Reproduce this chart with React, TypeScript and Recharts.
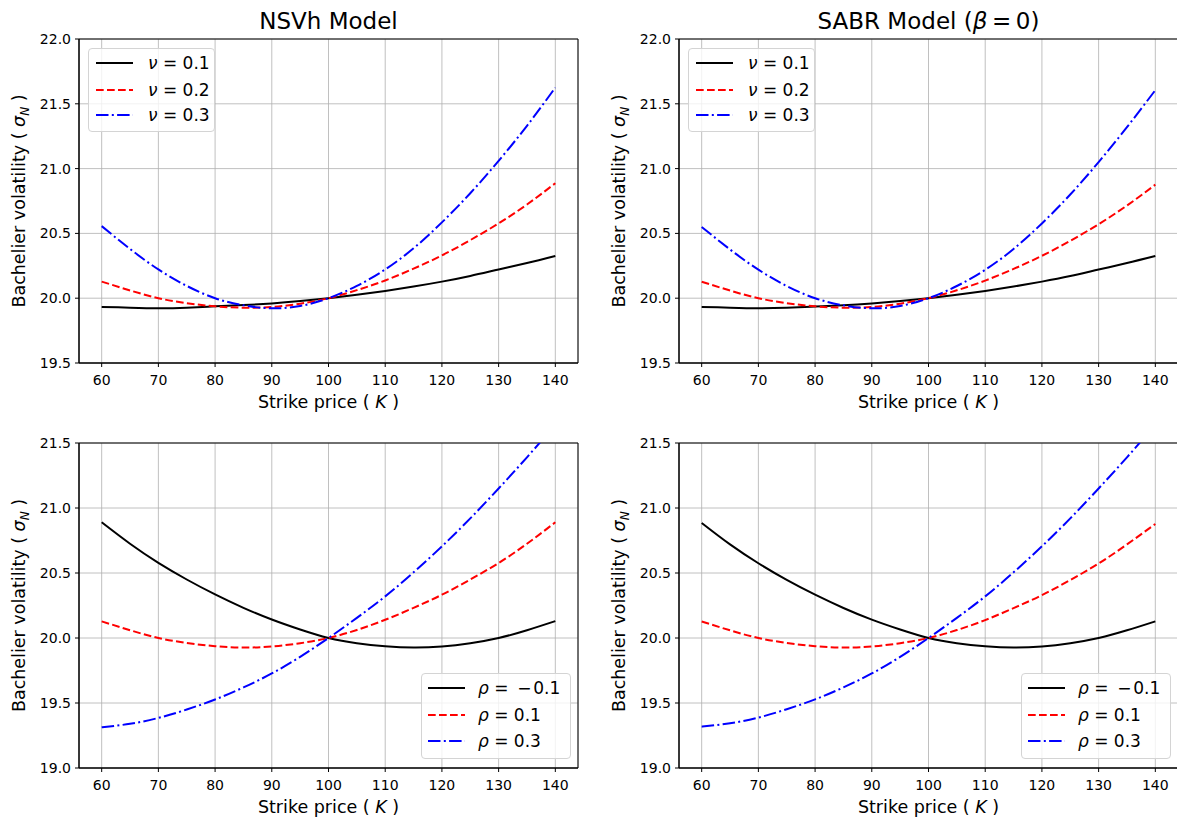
import React from 'react';
import { LineChart, Line, XAxis, YAxis, CartesianGrid, Legend, ReferenceArea } from 'recharts';

const FONT = '"DejaVu Sans", sans-serif';

// strike grid (K)
const strikes = [60, 65, 70, 75, 80, 85, 90, 95, 100, 105, 110, 115, 120, 125, 130, 135, 140];

// NSVh, varying nu
const nsvhNu01 = [19.933, 19.927, 19.923, 19.927, 19.937, 19.947, 19.96, 19.978, 20.0, 20.026, 20.056, 20.09, 20.128, 20.172, 20.222, 20.272, 20.326];
const nsvhNu02 = [20.128, 20.06, 20.0, 19.962, 19.937, 19.927, 19.932, 19.958, 20.0, 20.062, 20.137, 20.228, 20.33, 20.448, 20.577, 20.723, 20.887];
const nsvhNu03 = [20.556, 20.38, 20.222, 20.095, 20.0, 19.945, 19.922, 19.94, 20.0, 20.095, 20.222, 20.385, 20.585, 20.81, 21.06, 21.33, 21.625];

// SABR (beta = 0), varying nu
const sabrNu01 = [19.933, 19.927, 19.923, 19.927, 19.936, 19.946, 19.96, 19.978, 20.0, 20.026, 20.056, 20.09, 20.128, 20.171, 20.221, 20.271, 20.325];
const sabrNu02 = [20.127, 20.059, 20.0, 19.962, 19.937, 19.927, 19.932, 19.958, 20.0, 20.061, 20.136, 20.226, 20.327, 20.443, 20.571, 20.715, 20.876];
const sabrNu03 = [20.55, 20.376, 20.22, 20.094, 20.0, 19.945, 19.922, 19.94, 20.0, 20.094, 20.219, 20.38, 20.577, 20.8, 21.05, 21.32, 21.605];

// NSVh, varying rho
const nsvhRhoM01 = [20.89, 20.725, 20.578, 20.45, 20.335, 20.232, 20.142, 20.065, 20.0, 19.96, 19.937, 19.927, 19.935, 19.96, 20.0, 20.06, 20.13];
const nsvhRho01 = [20.128, 20.06, 20.0, 19.962, 19.937, 19.927, 19.935, 19.96, 20.0, 20.062, 20.14, 20.232, 20.333, 20.45, 20.577, 20.725, 20.89];
const nsvhRho03 = [19.313, 19.34, 19.385, 19.45, 19.527, 19.62, 19.727, 19.855, 20.0, 20.155, 20.32, 20.505, 20.705, 20.92, 21.15, 21.39, 21.64];

// SABR (beta = 0), varying rho
const sabrRhoM01 = [20.885, 20.72, 20.575, 20.447, 20.333, 20.231, 20.141, 20.065, 20.0, 19.96, 19.937, 19.927, 19.935, 19.96, 20.0, 20.059, 20.128];
const sabrRho01 = [20.127, 20.059, 20.0, 19.962, 19.937, 19.927, 19.935, 19.96, 20.0, 20.061, 20.138, 20.23, 20.33, 20.446, 20.573, 20.72, 20.877];
const sabrRho03 = [19.318, 19.344, 19.388, 19.452, 19.528, 19.62, 19.727, 19.855, 20.0, 20.155, 20.32, 20.505, 20.705, 20.92, 21.15, 21.39, 21.64];

const xTicks = [60, 70, 80, 90, 100, 110, 120, 130, 140];
const topYTicks = [19.5, 20.0, 20.5, 21.0, 21.5, 22.0];
const bottomYTicks = [19.0, 19.5, 20.0, 20.5, 21.0, 21.5];

const nuLabels = ['0.1', '0.2', '0.3'];
const rhoLabels = ['\u2009\u2212\u200a0.1', '0.1', '0.3'];

const seriesStyle = [
  { key: 'a', color: '#000000', dash: undefined as string | undefined },
  { key: 'b', color: '#ff0000', dash: '7.7 3.3' },
  { key: 'c', color: '#0000ff', dash: '12.5 3.3 2 3.3' },
];

const toRows = (a: number[], b: number[], c: number[]) =>
  strikes.map((k, i) => ({ k, a: a[i], b: b[i], c: c[i] }));

interface LegendSpec {
  left: number;
  top: number;
  width: number;
  height: number;
  rows: number[];
  lineX: number;
  textX: number;
  symbol: string;
  labels: string[];
}

function LegendBox({ spec }: { spec: LegendSpec }) {
  return (
    <div
      style={{
        position: 'relative',
        width: spec.width,
        height: spec.height,
        boxSizing: 'border-box',
        border: '1px solid #d4d4d4',
        borderRadius: 4,
        background: 'rgba(255,255,255,0.8)',
        fontFamily: FONT,
        fontSize: 17,
        color: '#000',
      }}
    >
      {seriesStyle.map((s, i) => (
        <div key={s.key} style={{ position: 'absolute', left: 0, top: spec.rows[i] - 11, height: 20, width: '100%' }}>
          <svg width={38} height={20} style={{ position: 'absolute', left: spec.lineX, top: 0 }}>
            <line x1={0} y1={10} x2={37} y2={10} stroke={s.color} strokeWidth={2} strokeDasharray={s.dash} />
          </svg>
          <span style={{ position: 'absolute', left: spec.textX, top: 0, lineHeight: '20px', whiteSpace: 'nowrap' }}>
            <i>{spec.symbol}</i>
            {' = '}
            {spec.labels[i]}
          </span>
        </div>
      ))}
    </div>
  );
}

interface PanelProps {
  x: number;
  y: number;
  h: number;
  mt: number;
  mb: number;
  rows: Array<{ k: number; a: number; b: number; c: number }>;
  yDomain: [number, number];
  yTicks: number[];
  title?: React.ReactNode;
  legend: LegendSpec;
}

function Panel(p: PanelProps) {
  const plotLeft = 79;
  const plotW = 499;
  const plotTop = p.mt;
  const plotBottom = p.h - p.mb - 50;
  const cx = plotLeft + plotW / 2;
  const cy = (plotTop + plotBottom) / 2;

  return (
    <div style={{ position: 'absolute', left: p.x, top: p.y, width: 600, height: p.h }}>
      <LineChart width={600} height={p.h} data={p.rows} margin={{ top: p.mt, right: 22, bottom: p.mb, left: 0 }}>
        <CartesianGrid stroke="#b0b0b0" strokeWidth={0.8} />
        <XAxis
          type="number"
          dataKey="k"
          domain={[56, 144]}
          ticks={xTicks}
          interval={0}
          allowDataOverflow
          height={50}
          tickSize={4}
          tickMargin={8}
          stroke="#000"
          tick={{ fill: '#000', fontSize: 14, fontFamily: FONT }}
          label={() => (
            <text x={cx} y={plotBottom + 45} textAnchor="middle" fontFamily={FONT} fontSize={17.5} fill="#000">
              Strike price ( <tspan fontStyle="italic">K</tspan> )
            </text>
          )}
        />
        <YAxis
          type="number"
          domain={p.yDomain}
          ticks={p.yTicks}
          interval={0}
          allowDataOverflow
          width={79}
          tickSize={4}
          tickMargin={4}
          stroke="#000"
          tickFormatter={(v: number) => v.toFixed(1)}
          tick={{ fill: '#000', fontSize: 14, fontFamily: FONT }}
          label={() => (
            <text
              x={25}
              y={cy}
              transform={`rotate(-90 25 ${cy})`}
              textAnchor="middle"
              fontFamily={FONT}
              fontSize={17.5}
              fill="#000"
            >
              Bachelier volatility ( <tspan fontStyle="italic">σ</tspan>
              <tspan fontStyle="italic" fontSize={12} dy={4}>N</tspan>
              <tspan dy={-4}> )</tspan>
            </text>
          )}
        />
        <ReferenceArea x1={56} x2={144} y1={p.yDomain[0]} y2={p.yDomain[1]} fill="none" stroke="#000" strokeWidth={1} ifOverflow="visible" />
        {seriesStyle.map((s) => (
          <Line
            key={s.key}
            type="natural"
            dataKey={s.key}
            stroke={s.color}
            strokeWidth={2}
            strokeDasharray={s.dash}
            dot={false}
            activeDot={false}
            isAnimationActive={false}
          />
        ))}
        <Legend
          layout="vertical"
          align="center"
          verticalAlign="middle"
          wrapperStyle={{ left: p.legend.left, top: p.legend.top, width: p.legend.width, height: p.legend.height }}
          content={() => <LegendBox spec={p.legend} />}
        />
      </LineChart>
      {p.title && (
        <svg width={600} height={40} style={{ position: 'absolute', left: 0, top: 0, pointerEvents: 'none' }}>
          <text x={cx} y={29} textAnchor="middle" fontFamily={FONT} fontSize={23} fill="#000">
            {p.title}
          </text>
        </svg>
      )}
    </div>
  );
}

const topLegend = (): LegendSpec => ({
  left: 88, top: 48, width: 127, height: 84, rows: [15, 41.5, 67], lineX: 7, textX: 59, symbol: 'ν', labels: nuLabels,
});
const bottomLegend = (): LegendSpec => ({
  left: 421, top: 253, width: 150, height: 86, rows: [14.5, 41.5, 68], lineX: 6, textX: 56, symbol: 'ρ', labels: rhoLabels,
});

export default function App() {
  return (
    <div style={{ position: 'absolute', left: 0, top: 0, width: 1177, height: 819, overflow: 'hidden', background: '#fff' }}>
      <Panel
        x={0} y={0} h={420} mt={39} mb={7}
        rows={toRows(nsvhNu01, nsvhNu02, nsvhNu03)}
        yDomain={[19.5, 22.0]} yTicks={topYTicks}
        title="NSVh Model"
        legend={topLegend()}
      />
      <Panel
        x={600} y={0} h={420} mt={39} mb={7}
        rows={toRows(sabrNu01, sabrNu02, sabrNu03)}
        yDomain={[19.5, 22.0]} yTicks={topYTicks}
        title={<>SABR Model (<tspan fontStyle="italic">β</tspan>{'\u2009=\u20090)'}</>}
        legend={topLegend()}
      />
      <Panel
        x={0} y={420} h={399} mt={23} mb={1}
        rows={toRows(nsvhRhoM01, nsvhRho01, nsvhRho03)}
        yDomain={[19.0, 21.5]} yTicks={bottomYTicks}
        legend={bottomLegend()}
      />
      <Panel
        x={600} y={420} h={399} mt={23} mb={1}
        rows={toRows(sabrRhoM01, sabrRho01, sabrRho03)}
        yDomain={[19.0, 21.5]} yTicks={bottomYTicks}
        legend={bottomLegend()}
      />
    </div>
  );
}
